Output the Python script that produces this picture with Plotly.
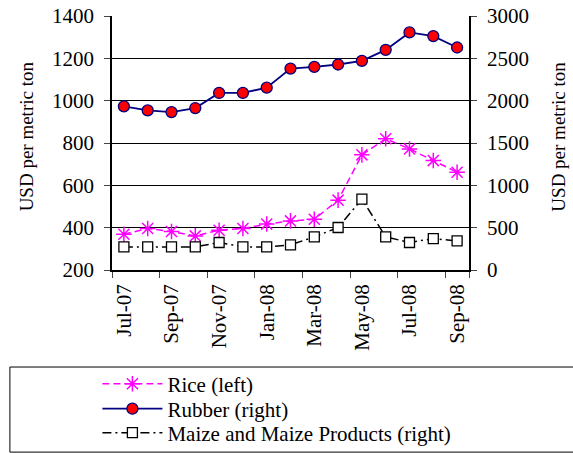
import plotly.graph_objects as go

months = ["Jul-07", "Aug-07", "Sep-07", "Oct-07", "Nov-07", "Dec-07", "Jan-08", "Feb-08",
          "Mar-08", "Apr-08", "May-08", "Jun-08", "Jul-08", "Aug-08", "Sep-08"]
rice = [369, 396, 382, 361, 388, 396, 417, 432, 440, 530, 744, 820, 772, 717, 662]
rubber = [1933, 1885, 1865, 1913, 2091, 2091, 2154, 2379, 2399, 2427, 2470, 2600, 2806, 2763, 2628]
maize = [273, 273, 273, 273, 325, 273, 273, 297, 391, 502, 838, 391, 325, 371, 344]

serif = "Liberation Serif"
ytitle = "USD per metric ton"

fig = go.Figure()
fig.add_trace(go.Scatter(
    x=months, y=rice, name="Rice (left)", mode="lines+markers", legend="legend",
    line=dict(color="#FF00FF", width=1.5, dash="7px,4px"),
    marker=dict(symbol="asterisk-open", size=13, color="#FF00FF", line=dict(color="#FF00FF", width=1.5)),
))
fig.add_trace(go.Scatter(
    x=months, y=rubber, name="Rubber (right)", mode="lines+markers", yaxis="y2", legend="legend2",
    line=dict(color="#000080", width=1.8),
    marker=dict(symbol="circle", size=11, color="#FF0000", line=dict(color="#000080", width=1.3)),
))
fig.add_trace(go.Scatter(
    x=months, y=maize, name="Maize and Maize Products (right)", mode="lines+markers", yaxis="y2",
    legend="legend3",
    line=dict(color="black", width=1.5, dash="9px,4px,2px,4px"),
    marker=dict(symbol="square", size=10, color="white", line=dict(color="black", width=1.3)),
))

# legend frame reaching past the right edge
fig.add_shape(type="rect", xref="paper", yref="paper", x0=-0.286, x1=1.30, y0=-0.717, y1=-0.382,
              line=dict(color="black", width=1))

# axis titles
fig.add_annotation(text=ytitle, xref="paper", yref="paper", x=-0.241, y=0.526, textangle=-90,
                   xanchor="center", yanchor="middle", showarrow=False,
                   font=dict(family=serif, size=19))
fig.add_annotation(text=ytitle, xref="paper", yref="paper", x=1.25, y=0.526, textangle=-90,
                   xanchor="center", yanchor="middle", showarrow=False,
                   font=dict(family=serif, size=19))

leg = dict(xref="container", yref="container", x=0.17, xanchor="left", yanchor="middle",
           bgcolor="rgba(0,0,0,0)", font=dict(family=serif, size=21), itemwidth=60)

fig.update_layout(
    width=573, height=453,
    margin=dict(l=112, r=104, t=16, b=183, autoexpand=False),
    plot_bgcolor="white", paper_bgcolor="white",
    font=dict(family=serif, size=21, color="black"),
    showlegend=True,
    legend=dict(leg, y=0.152),
    legend2=dict(leg, y=0.097),
    legend3=dict(leg, y=0.044),
    xaxis=dict(
        type="category", tickvals=months[::2], tickson="boundaries",
        ticks="outside", ticklen=6, tickangle=-90, showgrid=False, ticklabelstandoff=4,
        showline=True, linecolor="black", linewidth=1.5, range=[-0.5, 14.5],
        tickfont=dict(family=serif, size=21),
    ),
    yaxis=dict(
        range=[200, 1400], dtick=200, ticks="outside", ticklen=6, ticklabelstandoff=6,
        showline=True, linecolor="black", linewidth=1.5,
        showgrid=True, gridcolor="black", gridwidth=1,
        tickfont=dict(family=serif, size=21),
    ),
    yaxis2=dict(
        range=[0, 3000], dtick=500, overlaying="y", side="right", ticks="outside", ticklen=6,
        ticklabelstandoff=6,
        showline=True, linecolor="black", linewidth=1.5, showgrid=False,
        tickfont=dict(family=serif, size=21),
    ),
)

fig.write_html("out.html", config={"displayModeBar": False},
               post_script="document.body.style.margin='0';")
